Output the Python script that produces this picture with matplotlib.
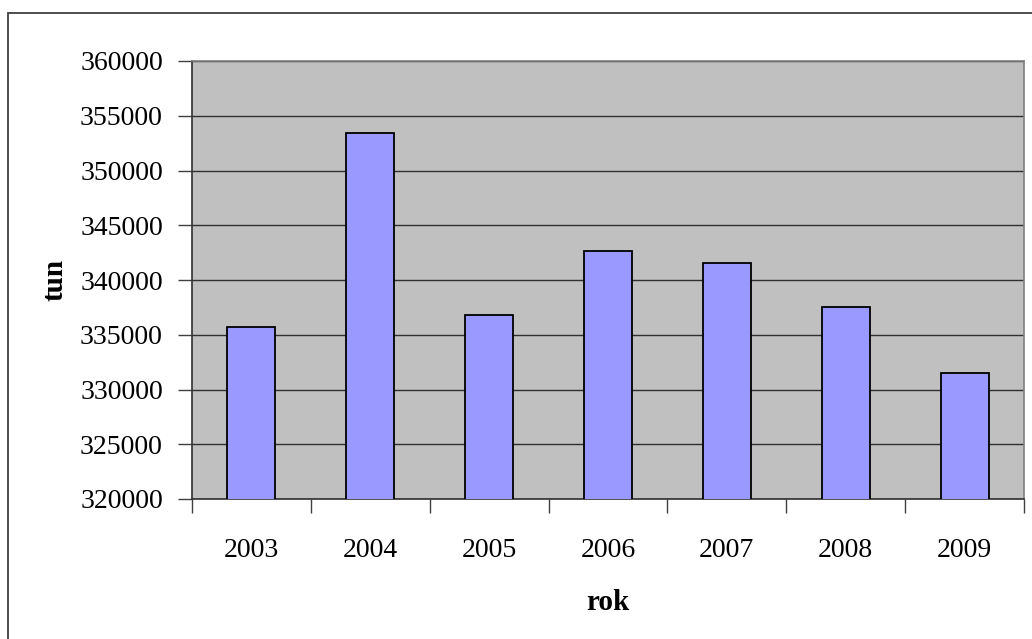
import numpy as np
import matplotlib.pyplot as plt
from matplotlib.patches import Rectangle

# roczne wartości (tony)
years = ['2003', '2004', '2005', '2006', '2007', '2008', '2009']
tons = [335700, 353450, 336800, 342650, 341550, 337560, 331530]
y_ticks = list(range(320000, 360001, 5000))

plt.rcParams['font.family'] = ['Liberation Serif', 'DejaVu Serif']

fig = plt.figure(figsize=(10.32, 6.39), dpi=100)
ax = fig.add_axes([192 / 1032, 1 - 499 / 639, 832 / 1032, 438 / 639])

# outer chart frame
fig.patches.append(Rectangle((8 / 1032, -0.05), 1.1, 1 - 13 / 639 + 0.05,
                             transform=fig.transFigure, fill=False,
                             edgecolor='#404040', linewidth=1.3))

x = np.arange(len(years))
ax.set_facecolor('#c0c0c0')
ax.bar(x, tons, width=0.405, color='#9999ff', edgecolor='black',
       linewidth=1.3, zorder=3)

ax.set_ylim(320000, 360000)
ax.set_xlim(-0.5, len(years) - 0.5)
ax.set_yticks(y_ticks)
ax.set_yticklabels([str(v) for v in y_ticks])
ax.yaxis.grid(True, color='#303030', linewidth=1.0, zorder=1)
ax.set_axisbelow(True)

# ticks between categories, labels centred under the bars
ax.set_xticks(np.arange(len(years) + 1) - 0.5)
ax.set_xticklabels([])
ax.set_xticks(x, minor=True)
ax.set_xticklabels(years, minor=True)
ax.tick_params(axis='x', which='major', length=10, width=1, color='#404040')
ax.tick_params(axis='x', which='minor', length=0, pad=28, labelsize=20)
ax.tick_params(axis='y', length=10, width=1, color='#404040', pad=11,
               labelsize=20)

for s in ['left', 'bottom']:
    ax.spines[s].set_color('#303030')
    ax.spines[s].set_linewidth(1.2)
for s in ['top', 'right']:
    ax.spines[s].set_color('#808080')
    ax.spines[s].set_linewidth(1.2)

fig.text(55 / 1032, 1 - 280 / 639, 'tun', rotation=90, ha='center',
         va='center', fontsize=21, fontweight='bold')
fig.text(608 / 1032, 1 - 603 / 639, 'rok', ha='center', va='center',
         fontsize=21, fontweight='bold')

fig.savefig('out.png', dpi=100)
